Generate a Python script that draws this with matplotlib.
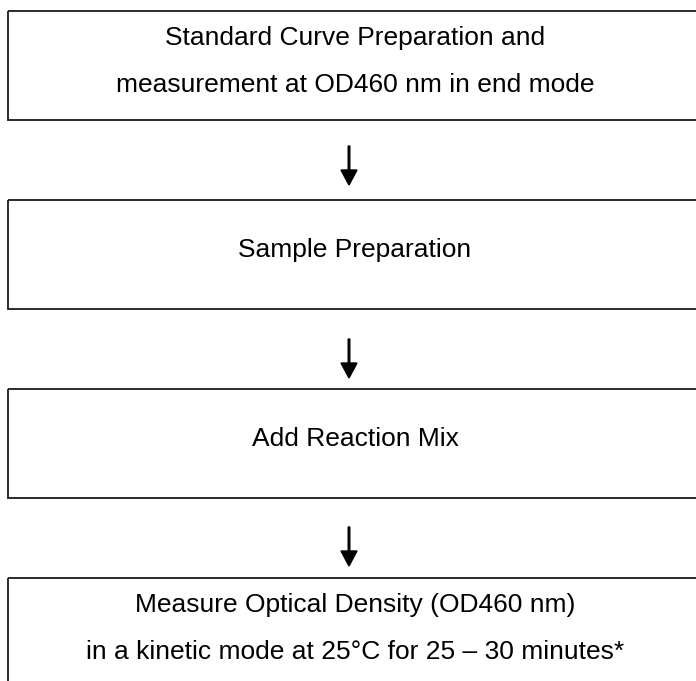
import matplotlib as mpl
mpl.use('Agg')
import matplotlib.pyplot as plt
from matplotlib.patches import Rectangle

# steps of the flow, one box each
steps = [
    ["Standard Curve Preparation and", "measurement at OD460 nm in end mode"],
    ["Sample Preparation"],
    ["Add Reaction Mix"],
    ["Measure Optical Density (OD460 nm)", "in a kinetic mode at 25\u00b0C for 25 \u2013 30 minutes*"],
]
box_tops = [11, 200, 389, 578]
arrow_starts = [146, 339, 527]
arrow_tips = [185, 378, 566]

W, H = 696, 681
fig = plt.figure(figsize=(W / 100, H / 100), dpi=100)
ax = fig.add_axes([0, 0, 1, 1])
ax.set_xlim(0, W)
ax.set_ylim(H, 0)
ax.axis('off')

box_h = 109
text_x = 355
for top, lines in zip(box_tops, steps):
    ax.add_patch(Rectangle((8, top), 700, box_h, fill=False, edgecolor='#1a1a1a', linewidth=1.3))
    if len(lines) == 1:
        baselines = [top + 57]
    else:
        baselines = [top + 34, top + 81]
    for line, y in zip(lines, baselines):
        ax.text(text_x, y, line, ha='center', va='baseline', fontsize=19,
                family=['Liberation Sans', 'DejaVu Sans'], color='black')

for y0, y1 in zip(arrow_starts, arrow_tips):
    ax.arrow(349, y0, 0, y1 - y0, width=1.6, head_width=16, head_length=15,
             length_includes_head=True, color='black')

fig.savefig('out.png', dpi=100)
